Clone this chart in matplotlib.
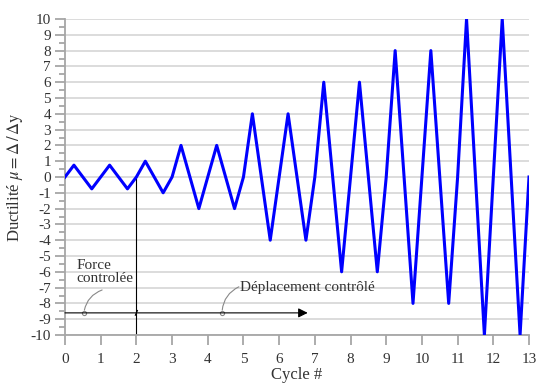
import numpy as np
import matplotlib.pyplot as plt
from matplotlib.ticker import MultipleLocator

plt.rcParams['font.family'] = ['Liberation Serif', 'DejaVu Serif']
plt.rcParams['mathtext.fontset'] = 'stix'
plt.rcParams['axes.unicode_minus'] = False

# amplitude of each loading cycle (ductility)
cycles = list(range(13))
amplitudes = [0.75, 0.75, 1, 2, 2, 4, 4, 6, 6, 8, 8, 10, 10]

x = []
y = []
for c, a in zip(cycles, amplitudes):
    x += [c, c + 0.25, c + 0.75]
    y += [0, a, -a]
x.append(13)
y.append(0)

fig = plt.figure(figsize=(5.37, 3.83), dpi=100)
ax = fig.add_axes([65 / 537, 48 / 383, 464 / 537, 316 / 383])

ax.set_xlim(0, 13)
ax.set_ylim(-10, 10)
ax.set_xticks(range(0, 14))
ax.set_yticks(range(-10, 11))
ax.yaxis.set_minor_locator(MultipleLocator(0.5))
ax.grid(axis='y', which='major', color='#d9d9d9', linewidth=1.3)
ax.set_axisbelow(True)

for s in ['top', 'right']:
    ax.spines[s].set_visible(False)
for s in ['left', 'bottom']:
    ax.spines[s].set_color('#a6a6a6')
    ax.spines[s].set_linewidth(1.3)
ax.tick_params(axis='both', which='major', length=7, color='#a6a6a6', width=1.3,
               labelsize=11, pad=3, labelcolor='#333333')
ax.tick_params(axis='y', which='minor', length=4, color='#a6a6a6', width=1.3)
ax.tick_params(axis='x', pad=6)

ax.plot(x, y, color='#0000ff', linewidth=2.2, zorder=3)

# phase separator and arrow
ax.plot([2, 2], [0, -10], color='black', linewidth=0.8, zorder=2)
ax.annotate('', xy=(6.8, -8.6), xytext=(0, -8.6),
            arrowprops=dict(arrowstyle='-|>', color='black', lw=0.8,
                            mutation_scale=14, shrinkA=0, shrinkB=0))
ax.plot([1.97, 2.03], [-8.75, -8.45], color='black', linewidth=0.8)

# callouts
ax.text(0.33, -6.85, 'Force\ncontrolée', fontsize=11, color='#333333',
        linespacing=1.0, va='bottom')
ax.annotate('', xy=(0.53, -8.6), xytext=(1.04, -7.15),
            arrowprops=dict(arrowstyle='-', color='#888888', lw=0.8,
                            connectionstyle='arc3,rad=0.3', shrinkA=0, shrinkB=2))
ax.plot([0.53], [-8.6], 'o', ms=3, mfc='none', mec='#888888', mew=0.8)

ax.text(4.9, -7.0, 'Déplacement contrôlé', fontsize=11, color='#333333', va='center')
ax.annotate('', xy=(4.4, -8.6), xytext=(4.87, -6.95),
            arrowprops=dict(arrowstyle='-', color='#888888', lw=0.8,
                            connectionstyle='arc3,rad=0.3', shrinkA=0, shrinkB=2))
ax.plot([4.4], [-8.6], 'o', ms=3, mfc='none', mec='#888888', mew=0.8)

ax.set_xlabel('Cycle #', fontsize=12, color='#333333', labelpad=1)
ax.set_ylabel(r'Ductilité $\mu = \Delta\,/\,\Delta\mathrm{y}$', fontsize=12,
              color='#333333', labelpad=4)

fig.savefig('out.png', dpi=100)
